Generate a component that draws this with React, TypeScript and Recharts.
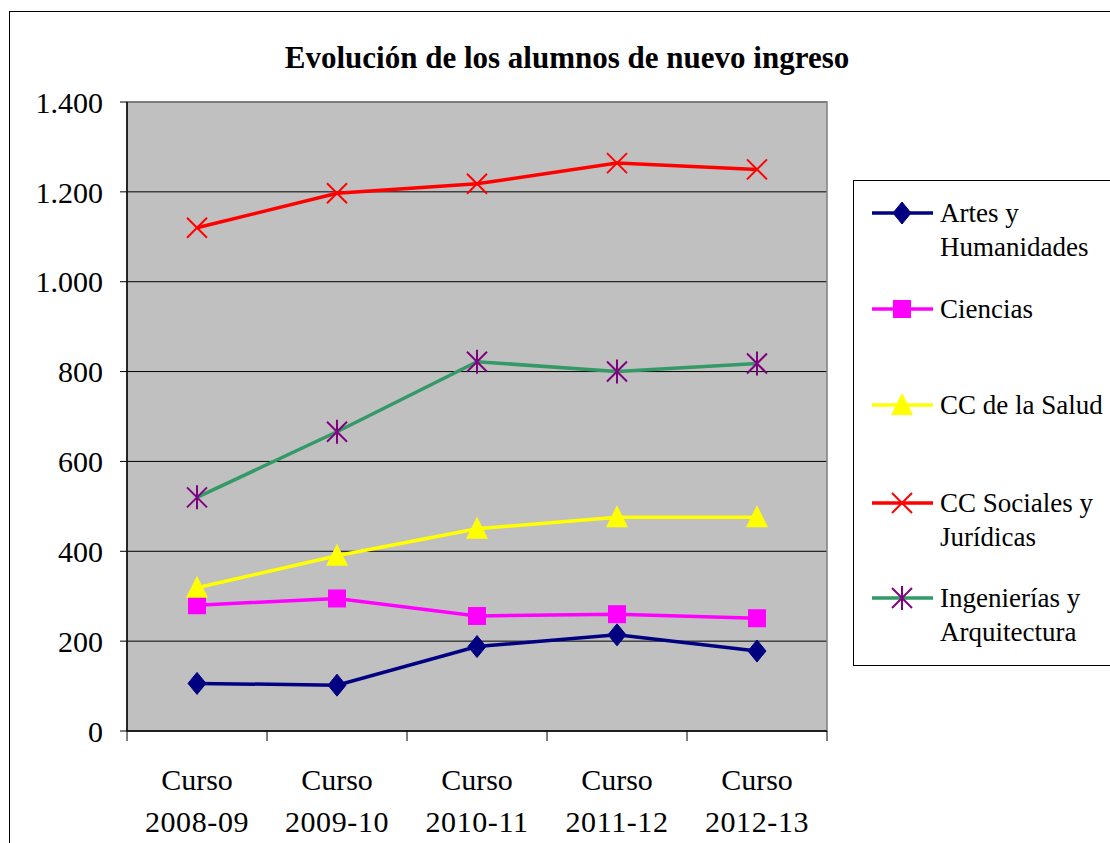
import React from "react";
import { LineChart, Line, XAxis, YAxis, CartesianGrid, ReferenceArea } from "recharts";

const cursoPrefix = "Curso";
const cursos = ["2008-09", "2009-10", "2010-11", "2011-12", "2012-13"];
const artes = [106, 102, 188, 214, 178];
const ciencias = [280, 295, 256, 260, 251];
const salud = [319, 390, 450, 476, 476];
const sociales = [1120, 1197, 1218, 1264, 1250];
const ingenierias = [520, 666, 822, 800, 818];
const yTicks = [0, 200, 400, 600, 800, 1000, 1200, 1400];
const xBoundaries = [0, 1, 2, 3, 4, 5];

const seriesNames = ["Artes y Humanidades", "Ciencias", "CC de la Salud", "CC Sociales y Jurídicas", "Ingenierías y Arquitectura"];
const legendLines = [["Artes y", "Humanidades"], ["Ciencias"], ["CC de la Salud"], ["CC Sociales y", "Jurídicas"], ["Ingenierías y", "Arquitectura"]];

const data = cursos.map((c, i) => ({
  x: i + 0.5,
  label: c,
  artes: artes[i],
  ciencias: ciencias[i],
  salud: salud[i],
  sociales: sociales[i],
  ingenierias: ingenierias[i],
}));

const FONT = "'Liberation Serif', 'Times New Roman', serif";
const fmt = (v: number) => String(v).replace(/\B(?=(\d{3})+(?!\d))/g, ".");

const Diamond = (cx: number, cy: number, k?: any) => (
  <polygon key={k} points={`${cx},${cy - 11} ${cx + 9},${cy} ${cx},${cy + 11} ${cx - 9},${cy}`} fill="#000080" stroke="#000080" />
);
const Square = (cx: number, cy: number, k?: any) => (
  <rect key={k} x={cx - 9} y={cy - 9} width={18} height={18} fill="#FF00FF" />
);
const Triangle = (cx: number, cy: number, k?: any) => (
  <polygon key={k} points={`${cx},${cy - 12} ${cx + 11},${cy + 10} ${cx - 11},${cy + 10}`} fill="#FFFF00" />
);
const Cross = (cx: number, cy: number, k?: any) => (
  <g key={k} stroke="#FF0000" strokeWidth={2}>
    <line x1={cx - 10} y1={cy - 10} x2={cx + 10} y2={cy + 10} />
    <line x1={cx - 10} y1={cy + 10} x2={cx + 10} y2={cy - 10} />
  </g>
);
const Star = (cx: number, cy: number, k?: any) => (
  <g key={k} stroke="#800080" strokeWidth={2}>
    <line x1={cx - 10} y1={cy - 10} x2={cx + 10} y2={cy + 10} />
    <line x1={cx - 10} y1={cy + 10} x2={cx + 10} y2={cy - 10} />
    <line x1={cx} y1={cy - 12} x2={cx} y2={cy + 12} />
  </g>
);

const markers = [Diamond, Square, Triangle, Cross, Star];
const lineColors = ["#000080", "#FF00FF", "#FFFF00", "#FF0000", "#339966"];
const keys = ["artes", "ciencias", "salud", "sociales", "ingenierias"];

const dotFn = (m: (cx: number, cy: number, k?: any) => any) => (p: any) => m(p.cx, p.cy, `d-${p.index}`);

const XTick = (props: any) => {
  const { x, y, payload } = props;
  const i = payload.value;
  if (i >= cursos.length) return <g />;
  const cx = x + 70;
  return (
    <g>
      <text x={cx} y={y + 47} textAnchor="middle" fontFamily={FONT} fontSize={30} fill="#000">{cursoPrefix}</text>
      <text x={cx} y={y + 89} textAnchor="middle" fontFamily={FONT} fontSize={30} letterSpacing={0.6} fill="#000">{cursos[i]}</text>
    </g>
  );
};

const rowY = [213, 309, 405, 503, 598];

const LegendBox = () => (
  <svg width={270} height={500} style={{ position: "absolute", left: 853, top: 180, overflow: "visible" }}>
    <rect x={0.5} y={0.5} width={280} height={485} fill="#fff" stroke="#000" strokeWidth={1} />
    {seriesNames.map((n, i) => {
      const y = rowY[i] - 180;
      return (
        <g key={n}>
          <line x1={19} x2={80} y1={y} y2={y} stroke={lineColors[i]} strokeWidth={3.5} />
          {markers[i](49, y)}
          {legendLines[i].map((t, j) => (
            <text key={t} x={87} y={y + 9 + j * 34} fontFamily={FONT} fontSize={27} fill="#000">{t}</text>
          ))}
        </g>
      );
    })}
  </svg>
);

export default function App() {
  return (
    <div style={{ position: "absolute", left: 0, top: 0, width: 1110, height: 843, overflow: "hidden", background: "#fff" }}>
      <div style={{ position: "absolute", left: 9, top: 11, width: 1200, height: 900, border: "1.5px solid #000" }} />
      <LineChart
        width={1110}
        height={843}
        data={data}
        margin={{ top: 102, left: 27, right: 283, bottom: 82 }}
        style={{ position: "absolute", left: 0, top: 0 }}
      >
        <CartesianGrid vertical={false} horizontal={true} stroke="#000" strokeWidth={1} fill="#C0C0C0" fillOpacity={1} />
        <ReferenceArea x1={0} x2={5} y1={0} y2={1400} fill="none" stroke="#808080" strokeWidth={1.5} />
        <XAxis
          dataKey="x"
          type="number"
          domain={[0, 5]}
          ticks={xBoundaries}
          interval={0}
          height={30}
          tickSize={10}
          tick={<XTick />}
          axisLine={{ stroke: "#000", strokeWidth: 1.5 }}
          tickLine={{ stroke: "#000" }}
        />
        <YAxis
          type="number"
          domain={[0, 1400]}
          ticks={yTicks}
          interval={0}
          width={100}
          tickSize={7}
          tickMargin={17}
          tickFormatter={fmt}
          tick={{ fontFamily: FONT, fontSize: 30, fill: "#000" }}
          axisLine={{ stroke: "#000", strokeWidth: 1.5 }}
          tickLine={{ stroke: "#000" }}
        />
        {keys.map((k, i) => (
          <Line
            key={k}
            dataKey={k}
            name={seriesNames[i]}
            type="linear"
            stroke={lineColors[i]}
            strokeWidth={3.5}
            dot={dotFn(markers[i])}
            activeDot={false}
            isAnimationActive={false}
          />
        ))}
        <text x={567} y={68} textAnchor="middle" fontFamily={FONT} fontWeight="bold" fontSize={31} fill="#000">
          Evolución de los alumnos de nuevo ingreso
        </text>
      </LineChart>
      <LegendBox />
    </div>
  );
}
